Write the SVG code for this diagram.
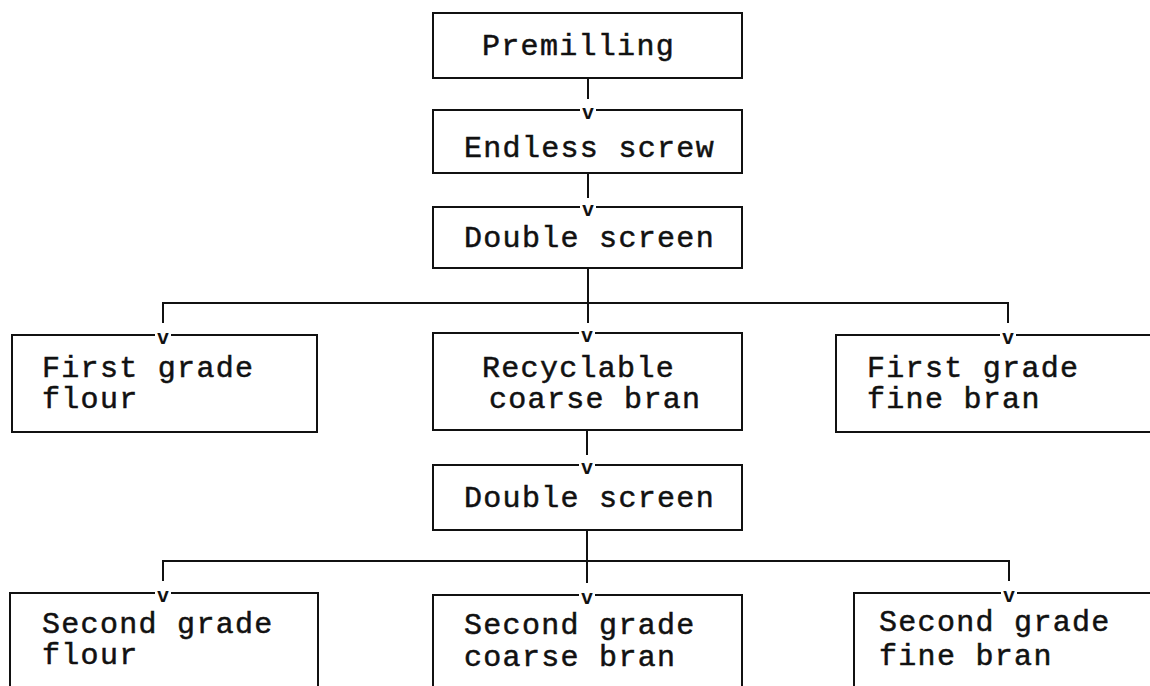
<svg xmlns="http://www.w3.org/2000/svg" width="1150" height="686" viewBox="0 0 1150 686">
  <style>
    .box { fill: none; stroke: #111; stroke-width: 2; }
    .wire { fill: none; stroke: #111; stroke-width: 2; }
    .lbl { font-family: "Liberation Mono", "DejaVu Sans Mono", monospace; font-size: 30px; letter-spacing: 1.3px; fill: #111; stroke: #111; stroke-width: 0.5px; }
    .tip { font-family: "Liberation Mono", "DejaVu Sans Mono", monospace; font-size: 20px; font-weight: bold; fill: #111; text-anchor: middle; }
    .gap { fill: #fff; }
  </style>
  <defs>
    <!-- entry mark: a small "v" set into the top edge of a box -->
    <g id="entry">
      <rect class="gap" x="-8" y="-4" width="16" height="6"/>
      <text class="tip" x="0" y="9">v</text>
    </g>
  </defs>
  <rect width="1150" height="686" fill="#fff"/>

  <g id="connectors">
    <path class="wire" d="M588,78 V99"/>
    <path class="wire" d="M588,173 V198"/>
    <path class="wire" d="M588,268 V323 M163,323 V303 H1008 V323"/>
    <path class="wire" d="M587,430 V455"/>
    <path class="wire" d="M587,530 V583 M163,581 V561 H1009 V581"/>
  </g>

  <g id="premilling">
    <rect class="box" x="433" y="13" width="309" height="65"/>
    <text class="lbl" x="482" y="55">Premilling</text>
  </g>

  <g id="endless-screw">
    <rect class="box" x="433" y="110" width="309" height="63"/>
    <use href="#entry" x="588" y="110"/>
    <text class="lbl" x="464" y="157">Endless screw</text>
  </g>

  <g id="double-screen-1">
    <rect class="box" x="433" y="207" width="309" height="61"/>
    <use href="#entry" x="588" y="207"/>
    <text class="lbl" x="464" y="247">Double screen</text>
  </g>

  <g id="first-grade-flour">
    <rect class="box" x="12" y="335" width="305" height="97"/>
    <use href="#entry" x="163" y="335"/>
    <text class="lbl" x="42" y="377">First grade<tspan x="42" y="408">flour</tspan></text>
  </g>

  <g id="recyclable-coarse-bran">
    <rect class="box" x="433" y="333" width="309" height="97"/>
    <use href="#entry" x="587" y="333"/>
    <text class="lbl" x="482" y="377">Recyclable<tspan x="489" y="408">coarse bran</tspan></text>
  </g>

  <g id="first-grade-fine-bran">
    <rect class="box" x="836" y="335" width="330" height="97"/>
    <use href="#entry" x="1008" y="335"/>
    <text class="lbl" x="867" y="377">First grade<tspan x="867" y="408">fine bran</tspan></text>
  </g>

  <g id="double-screen-2">
    <rect class="box" x="433" y="465" width="309" height="65"/>
    <use href="#entry" x="587" y="465"/>
    <text class="lbl" x="464" y="507">Double screen</text>
  </g>

  <g id="second-grade-flour">
    <rect class="box" x="10" y="593" width="308" height="110"/>
    <use href="#entry" x="163" y="593"/>
    <text class="lbl" x="42" y="633">Second grade<tspan x="42" y="664">flour</tspan></text>
  </g>

  <g id="second-grade-coarse-bran">
    <rect class="box" x="433" y="595" width="309" height="110"/>
    <use href="#entry" x="587" y="595"/>
    <text class="lbl" x="464" y="634">Second grade<tspan x="464" y="666">coarse bran</tspan></text>
  </g>

  <g id="second-grade-fine-bran">
    <rect class="box" x="854" y="593" width="320" height="110"/>
    <use href="#entry" x="1009" y="593"/>
    <text class="lbl" x="879" y="631">Second grade<tspan x="879" y="665">fine bran</tspan></text>
  </g>
</svg>
